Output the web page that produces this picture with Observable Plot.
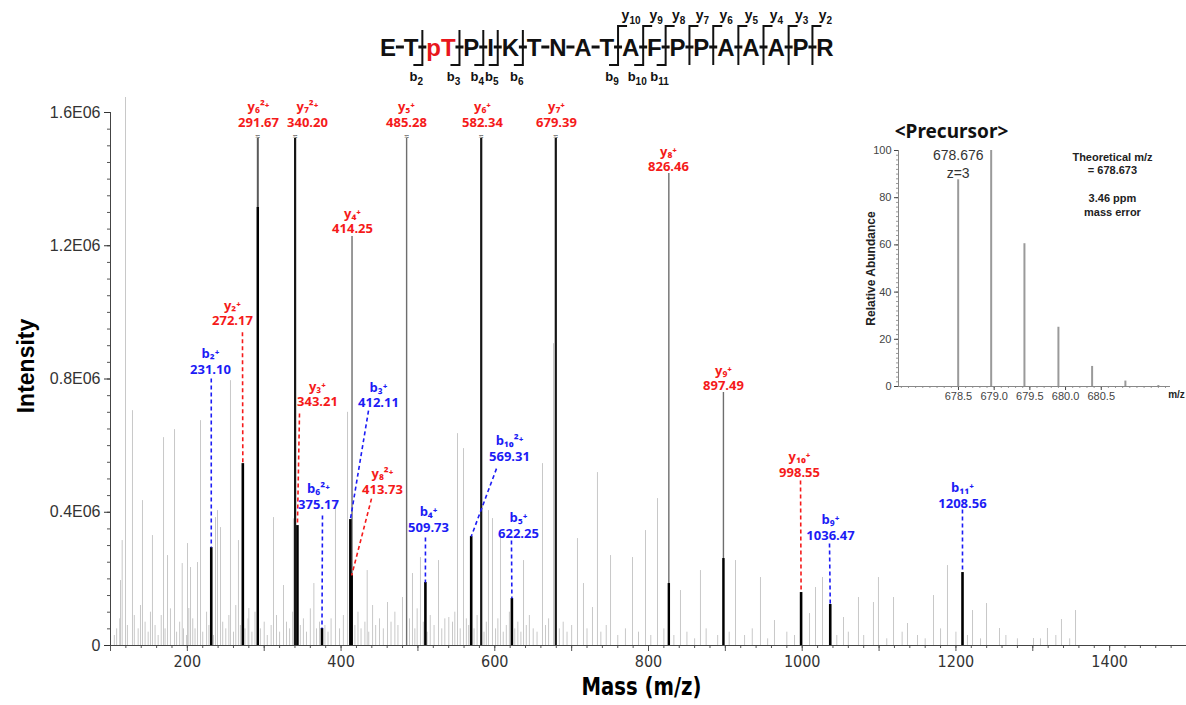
<!DOCTYPE html>
<html><head><meta charset="utf-8">
<script src="https://cdn.jsdelivr.net/npm/d3@7"></script>
<script src="https://cdn.jsdelivr.net/npm/@observablehq/plot@0.6"></script>
<style>
html,body{margin:0;padding:0;background:#fff;}
#wrap{position:relative;width:1186px;height:705px;overflow:hidden;}
#main{position:absolute;left:0;top:0;}
#inset{position:absolute;left:855px;top:108px;}
#header{position:absolute;left:0;top:0;}
svg{overflow:visible;}
</style></head>
<body><div id="wrap"><div id="main"></div><div id="inset"></div><svg id="header" width="1186" height="95"></svg></div>
<script>
// ---------------- DATA ----------------
// Main axis ticks
const yTickValues = [0, 400000, 800000, 1200000, 1600000];
const yTickLabels = ["0", "0.4E06", "0.8E06", "1.2E06", "1.6E06"];
const xTickValues = [200, 400, 600, 800, 1000, 1200, 1400];

// Unassigned (gray) peaks: [m/z, intensity]
const noisePeaks = [
  [113.0,0.195e6],[115.2,0.315e6],[119.5,1.645e6],[128.6,0.705e6],[141.6,0.435e6],[154.6,0.33e6],[169.0,0.624e6],
  [174.2,0.27e6],[183.3,0.648e6],[193.3,0.246e6],[200.2,0.306e6],[201.9,0.111e6],[204.1,0.234e6],[213.2,0.249e6],
  [217.1,0.675e6],[236.6,0.384e6],[239.2,0.405e6],[243.1,0.354e6],[256.1,0.795e6],[266.5,0.315e6],[280.0,0.111e6],
  [312.1,0.384e6],[325.1,0.18e6],[338.0,0.38e6],[364.6,0.186e6],[392.7,0.435e6],[408.4,0.70e6],[434.0,0.225e6],
  [460.4,0.129e6],[479.9,0.144e6],[492.9,0.216e6],[503.3,0.264e6],[526.8,0.255e6],[540.2,0.084e6],[551.5,0.636e6],
  [559.3,0.591e6],[591.8,0.405e6],[597.0,0.381e6],[607.4,0.345e6],[637.4,0.255e6],[662.1,0.546e6],[676.4,0.906e6],
  [707.6,0.321e6],[715.4,0.186e6],[727.1,0.114e6],[733.6,0.519e6],[750.6,0.27e6],[779.2,0.264e6],[796.1,0.345e6],
  [811.7,0.441e6],[841.6,0.165e6],[867.6,0.225e6],[913.2,0.255e6],[945.7,0.204e6],[963.9,0.075e6],[1009.5,0.096e6],
  [1017.3,0.174e6],[1026.4,0.204e6],[1053.7,0.084e6],[1073.2,0.144e6],[1092.7,0.129e6],[1099.2,0.204e6],[1118.8,0.144e6],
  [1137.0,0.066e6],[1170.8,0.15e6],[1189.0,0.24e6],[1221.6,0.105e6],[1239.8,0.126e6],[1256.7,0.051e6],[1300.9,0.021e6],
  [1319.1,0.051e6],[1337.3,0.078e6],[1355.6,0.105e6],
  [105,0.03e6],[108,0.05e6],[112,0.08e6],[122,0.06e6],[131,0.09e6],[136,0.05e6],[139,0.12e6],[145,0.07e6],[149,0.04e6],
  [152,0.10e6],[158,0.06e6],[162,0.03e6],[166,0.09e6],[171,0.05e6],[178,0.11e6],[186,0.04e6],[190,0.07e6],[195,0.05e6],
  [199,0.03e6],[207,0.08e6],[210,0.05e6],[220,0.04e6],[225,0.10e6],[228,0.06e6],[234,0.03e6],[246,0.07e6],[250,0.05e6],
  [254,0.09e6],[260,0.04e6],[263,0.12e6],[269,0.06e6],[275,0.05e6],[279,0.08e6],[284,0.04e6],[288,0.10e6],[295,0.05e6],
  [300,0.07e6],[304,0.03e6],[309,0.06e6],[316,0.09e6],[320,0.04e6],[329,0.07e6],[333,0.05e6],[337,0.10e6],[347,0.06e6],
  [351,0.08e6],[355,0.04e6],[360,0.11e6],[368,0.05e6],[372,0.07e6],[379,0.06e6],[383,0.04e6],[387,0.08e6],[398,0.05e6],
  [403,0.09e6],[418,0.06e6],[422,0.10e6],[426,0.05e6],[431,0.07e6],[436,0.04e6],[441,0.12e6],[445,0.06e6],[450,0.08e6],
  [455,0.05e6],[465,0.07e6],[470,0.10e6],[474,0.06e6],[489,0.08e6],[496,0.05e6],[499,0.11e6],[507,0.07e6],[512,0.04e6],
  [516,0.09e6],[521,0.06e6],[531,0.05e6],[535,0.08e6],[545,0.07e6],[548,0.10e6],[555,0.05e6],[563,0.08e6],[566,0.06e6],
  [573,0.05e6],[577,0.09e6],[586,0.04e6],[589,0.07e6],[601,0.05e6],[604,0.08e6],[611,0.04e6],[615,0.06e6],[619,0.10e6],
  [626,0.05e6],[630,0.07e6],[634,0.04e6],[641,0.06e6],[645,0.09e6],[650,0.05e6],[655,0.04e6],[666,0.06e6],[670,0.08e6],
  [684,0.05e6],[689,0.07e6],[694,0.04e6],[700,0.06e6],[720,0.05e6],[738,0.04e6],[745,0.06e6],[760,0.03e6],[770,0.05e6],
  [787,0.04e6],[803,0.03e6],[820,0.05e6],[833,0.03e6],[850,0.04e6],[860,0.02e6],[875,0.05e6],[890,0.03e6],[905,0.04e6],
  [925,0.03e6],[935,0.05e6],[955,0.02e6],[980,0.04e6],[990,0.03e6],[1045,0.03e6],[1060,0.04e6],[1080,0.03e6],
  [1110,0.02e6],[1130,0.04e6],[1150,0.03e6],[1160,0.02e6],[1180,0.05e6],[1200,0.04e6],[1215,0.03e6],[1232,0.02e6],
  [1265,0.03e6],[1280,0.02e6],[1310,0.02e6],[1330,0.03e6],[1348,0.02e6]
];

// Assigned fragment ions
const ionNames = ["b₂⁺","y₂⁺","y₆²⁺","y₇²⁺","y₃⁺","b₆²⁺","b₃⁺","y₈²⁺","y₄⁺","y₅⁺","b₄⁺","b₁₀²⁺","y₆⁺","b₅⁺","y₇⁺","y₈⁺","y₉⁺","y₁₀⁺","b₉⁺","b₁₁⁺"];
const ionSeries = ["b","y","y","y","y","b","b","y","y","y","b","b","y","b","y","y","y","y","b","b"];
const ionMz = [231.10,272.17,291.67,340.20,343.21,375.17,412.11,413.73,414.25,485.28,509.73,569.31,582.34,622.25,679.39,826.46,897.49,998.55,1036.47,1208.56];
const ionIntensity = [294000,546000,1522000,1522000,360000,51000,378000,210000,1228000,1522000,189000,327000,1522000,141000,1522000,1417000,759500,159000,123000,219000];
// label anchor (m/z, intensity at the bottom of the label)
const labelMz = [230.1,258.7,292.6,356.3,369.3,370.6,448.7,453.9,414.9,485.1,513.8,619.1,584.0,630.8,680.3,826.0,897.6,996.5,1036.8,1208.5];
const labelIntensity = [816500,961000,1557000,1557000,717500,411000,714500,456000,1237000,1557000,342000,555000,1557000,324000,1557000,1423000,765500,507000,318000,414000];
// dashed leader start (null = label sits on the peak)
const leaderMz = [231.1,271.7,null,null,345.9,375.8,435.7,439.6,null,null,509.8,602.2,null,621.7,null,null,null,997.8,1035.5,1208.5];
const leaderIntensity = [801500,940000,null,null,696500,390000,705000,441000,null,null,324000,531000,null,315000,null,null,null,495000,306000,408000];
// darker lower segment of some tall assigned peaks
const overlayMz = [291.67, 826.46, 897.49];
const overlayIntensity = [1315000, 186000, 261000];

// Precursor inset
const isoMz = [678.496, 678.958, 679.424, 679.900, 680.372, 680.838, 681.30];
const isoAbundance = [87.6, 100, 60.5, 25.1, 8.5, 2.3, 0.4];
const insetXTicks = [678.5, 679.0, 679.5, 680.0, 680.5];
const insetYTicks = [0, 20, 40, 60, 80, 100];
const precursorObserved = "678.676";
const precursorCharge = 3;
const precursorTheoretical = "678.673";
const massErrorPpm = "3.46";

// Peptide sequence header
const residues = ["E","T","pT","P","I","K","T","N","A","T","A","F","P","P","A","A","A","P","R"];
const bCuts = {2:"2",3:"3",4:"4",5:"5",6:"6",10:"9",11:"10",12:"11"};
const yCuts = {10:"10",11:"9",12:"8",13:"7",14:"6",15:"5",16:"4",17:"3",18:"2"};

// ---------------- BUILD ----------------
const RED = "#f51a1a", BLUE = "#1c1cf5";
const noise = noisePeaks.map(([mz, i]) => ({mz, i}));
const ions = ionNames.map((name, k) => ({
  name, series: ionSeries[k], mz: ionMz[k], i: ionIntensity[k],
  labelMz: labelMz[k], labelI: labelIntensity[k],
  leaderMz: leaderMz[k], leaderI: leaderIntensity[k]
}));
const overlays = overlayMz.map((mz, k) => ({mz, i: overlayIntensity[k]}));
const thinGray = new Set(["y₄⁺","y₅⁺","y₈⁺","y₉⁺"]);
const withLeader = ions.filter(d => d.leaderMz != null);
const direct = ions.filter(d => d.leaderMz == null);
const truncated = ions.filter(d => d.i >= 1500000);
const labelFont = "Open Sans, Noto Sans, DejaVu Sans, sans-serif";
const condensed = "DejaVu Sans Condensed, Liberation Sans Narrow, sans-serif";
const ionText = d => `${d.name}\n${d.mz.toFixed(2)}`;

const main = Plot.plot({
  width: 1186, height: 705,
  marginLeft: 110, marginRight: 0, marginTop: 112, marginBottom: 60,
  x: {domain: [100, 1500]},
  y: {domain: [0, 1600000]},
  style: {fontFamily: "Liberation Sans, Arial, sans-serif", background: "white", overflow: "visible"},
  marks: [
    Plot.ruleX(noise, {x: "mz", y1: 0, y2: "i", stroke: "#c8c8c8", strokeWidth: 1}),
    Plot.ruleX(direct.filter(d => thinGray.has(d.name)), {x: "mz", y1: 0, y2: "i", stroke: "#6e6e6e", strokeWidth: 1.4}),
    Plot.ruleX(direct.filter(d => d.name === "y₆²⁺"), {x: "mz", y1: 0, y2: "i", stroke: "#5a5a5a", strokeWidth: 2}),
    Plot.ruleX(direct.filter(d => !thinGray.has(d.name) && d.name !== "y₆²⁺"), {x: "mz", y1: 0, y2: "i", stroke: "#161616", strokeWidth: 2.2}),
    Plot.ruleX(overlays, {x: "mz", y1: 0, y2: "i", stroke: "#000", strokeWidth: 2.4}),
    Plot.ruleX(withLeader, {x: "mz", y1: 0, y2: "i", stroke: "#000", strokeWidth: 2.6}),
    Plot.link(withLeader.filter(d => d.series === "b"), {x1: "leaderMz", y1: "leaderI", x2: "mz", y2: "i", stroke: BLUE, strokeWidth: 1.6, strokeDasharray: "4,3"}),
    Plot.link(withLeader.filter(d => d.series === "y"), {x1: "leaderMz", y1: "leaderI", x2: "mz", y2: "i", stroke: RED, strokeWidth: 1.6, strokeDasharray: "4,3"}),
    Plot.text(truncated, {x: "mz", y: "i", text: () => "≈", dy: -2, fontSize: 8, fill: "#333"}),
    Plot.text(ions.filter(d => d.series === "y"), {x: "labelMz", y: "labelI", text: ionText, fill: RED, fontSize: 13, fontWeight: "bold", fontFamily: labelFont, lineAnchor: "bottom", lineHeight: 1.2}),
    Plot.text(ions.filter(d => d.series === "b"), {x: "labelMz", y: "labelI", text: ionText, fill: BLUE, fontSize: 13, fontWeight: "bold", fontFamily: labelFont, lineAnchor: "bottom", lineHeight: 1.2}),
    // axes
    Plot.axisY(d3.range(0, 1600001, 50000), {tickSize: 3, tickFormat: () => "", stroke: "#555", label: null}),
    Plot.axisY(yTickValues, {tickSize: 6, tickPadding: 4, tickFormat: d => yTickLabels[yTickValues.indexOf(d)], fontSize: 16, color: "#333", label: null}),
    Plot.axisX(d3.range(100, 1501, 20), {tickSize: 3, tickFormat: () => "", stroke: "#555", label: null}),
    Plot.axisX(d3.range(100, 1501, 100), {tickSize: 6, tickFormat: () => "", stroke: "#555", label: null}),
    Plot.axisX(xTickValues, {tickSize: 0, tickPadding: 10, tickFormat: d => String(d), fontSize: 16, fontFamily: condensed, color: "#333", label: null}),
    Plot.ruleY([0], {stroke: "#444"}),
    Plot.ruleX([100], {stroke: "#444"}),
    Plot.text(["Intensity"], {frameAnchor: "left", textAnchor: "middle", dx: -84, dy: -13, rotate: -90, fontSize: 23, fontWeight: "bold", fill: "#000"}),
    Plot.text(["Mass (m/z)"], {frameAnchor: "bottom", textAnchor: "middle", dx: -7, dy: 49, fontSize: 25, fontWeight: "bold", fontFamily: condensed, fill: "#000"})
  ]
});
document.getElementById("main").appendChild(main);
// condense the x-axis title to the reference's narrow face
d3.select(main).selectAll("text").filter(function() { return this.textContent === "Mass (m/z)"; })
  .attr("textLength", 120).attr("lengthAdjust", "spacingAndGlyphs");

// Inset
const iso = isoMz.map((mz, k) => ({mz, a: isoAbundance[k]}));
const inset = Plot.plot({
  width: 331, height: 302,
  marginLeft: 43, marginRight: 16, marginTop: 42, marginBottom: 24,
  x: {domain: [677.66, 681.47]},
  y: {domain: [0, 100]},
  style: {fontFamily: "Liberation Sans, Arial, sans-serif", background: "white", overflow: "visible"},
  marks: [
    Plot.ruleX(iso, {x: "mz", y1: 0, y2: "a", stroke: "#9a9a9a", strokeWidth: 2}),
    Plot.axisY(d3.range(0, 101, 2), {tickSize: 2, tickFormat: () => "", stroke: "#999", label: null}),
    Plot.axisY(insetYTicks, {tickSize: 4, tickPadding: 3, fontSize: 11, color: "#444", label: null}),
    Plot.axisX(d3.range(677.7, 681.45, 0.1), {tickSize: 2, tickFormat: () => "", stroke: "#999", label: null}),
    Plot.axisX(insetXTicks, {tickSize: 4, tickPadding: 2, tickFormat: d => d.toFixed(1), fontSize: 11, color: "#444", label: null}),
    Plot.ruleY([0], {stroke: "#888"}),
    Plot.ruleX([677.66], {stroke: "#888"}),
    Plot.text([`${precursorObserved}\nz=${precursorCharge}`], {x: isoMz[0], y: 101.5, lineAnchor: "top", fontSize: 14, lineHeight: 1.3, fill: "#333"}),
    Plot.text([`Theoretical m/z\n= ${precursorTheoretical}\n\n${massErrorPpm} ppm\nmass error`], {x: 680.657, y: 99.8, lineAnchor: "top", fontSize: 11, fontWeight: "bold", lineHeight: 1.25, fill: "#222"}),
    Plot.text(["<Precursor>"], {frameAnchor: "top-left", dx: 53, dy: -26, textAnchor: "middle", fontSize: 19, fontWeight: "bold", fontFamily: "Noto Sans, Open Sans, sans-serif", fill: "#111"}),
    Plot.text(["Relative Abundance"], {frameAnchor: "left", textAnchor: "middle", dx: -27, rotate: -90, fontSize: 12, fontWeight: "bold", fill: "#222"}),
    Plot.text(["m/z"], {frameAnchor: "bottom-right", textAnchor: "middle", dx: 6, dy: 11, fontSize: 10, fontWeight: "bold", fill: "#222"})
  ]
});
document.getElementById("inset").appendChild(inset);

// Header: peptide sequence with fragment brackets
const hdr = d3.select("#header");
const seqFamily = "Liberation Sans, Arial, sans-serif";
const widths = residues.map(r => {
  const t = hdr.append("text").attr("font-family", seqFamily).attr("font-size", 24).attr("font-weight", "bold").text(r);
  const w = t.node().getComputedTextLength(); t.remove(); return w;
});
const firstCenter = 388, lastCenter = 825;
const inner = d3.sum(widths) - widths[0] / 2 - widths[widths.length - 1] / 2;
const gap = (lastCenter - firstCenter - inner) / (residues.length - 1);
let cursor = firstCenter - widths[0] / 2;
const baseline = 56, midY = 47, topY = 26, botY = 65;
residues.forEach((r, i) => {
  hdr.append("text").attr("x", cursor + widths[i] / 2).attr("y", baseline).attr("text-anchor", "middle")
    .attr("font-family", seqFamily).attr("font-size", 24).attr("font-weight", "bold")
    .attr("fill", r === "pT" ? "#e8161c" : "#111").text(r);
  cursor += widths[i];
  if (i < residues.length - 1) {
    const cx = cursor + gap / 2, cut = i + 1;
    hdr.append("line").attr("x1", cx - 4).attr("x2", cx + 4).attr("y1", midY).attr("y2", midY)
      .attr("stroke", "#111").attr("stroke-width", 3);
    const hasB = bCuts[cut] !== undefined, hasY = yCuts[cut] !== undefined;
    if (hasB || hasY) {
      const path = [];
      if (hasY) path.push(`M${cx + 9},${topY}H${cx}`); else path.push(`M${cx},${topY + 4}`);
      path.push(`V${botY}`);
      if (hasB) path.push(`H${cx - 9}`);
      hdr.append("path").attr("d", path.join("")).attr("fill", "none").attr("stroke", "#111").attr("stroke-width", 2);
    }
    if (hasB) {
      const t = hdr.append("text").attr("x", cx - 6).attr("y", 81).attr("text-anchor", "middle")
        .attr("font-family", seqFamily).attr("font-size", 13).attr("font-weight", "bold").attr("fill", "#111");
      t.append("tspan").text("b");
      t.append("tspan").attr("font-size", 10).attr("dy", 4).text(bCuts[cut]);
    }
    if (hasY) {
      const t = hdr.append("text").attr("x", cx + 13).attr("y", 20).attr("text-anchor", "middle")
        .attr("font-family", seqFamily).attr("font-size", 14).attr("font-weight", "bold").attr("fill", "#111");
      t.append("tspan").text("y");
      t.append("tspan").attr("font-size", 10).attr("dy", 4).text(yCuts[cut]);
    }
    cursor += gap;
  }
});
</script></body></html>
